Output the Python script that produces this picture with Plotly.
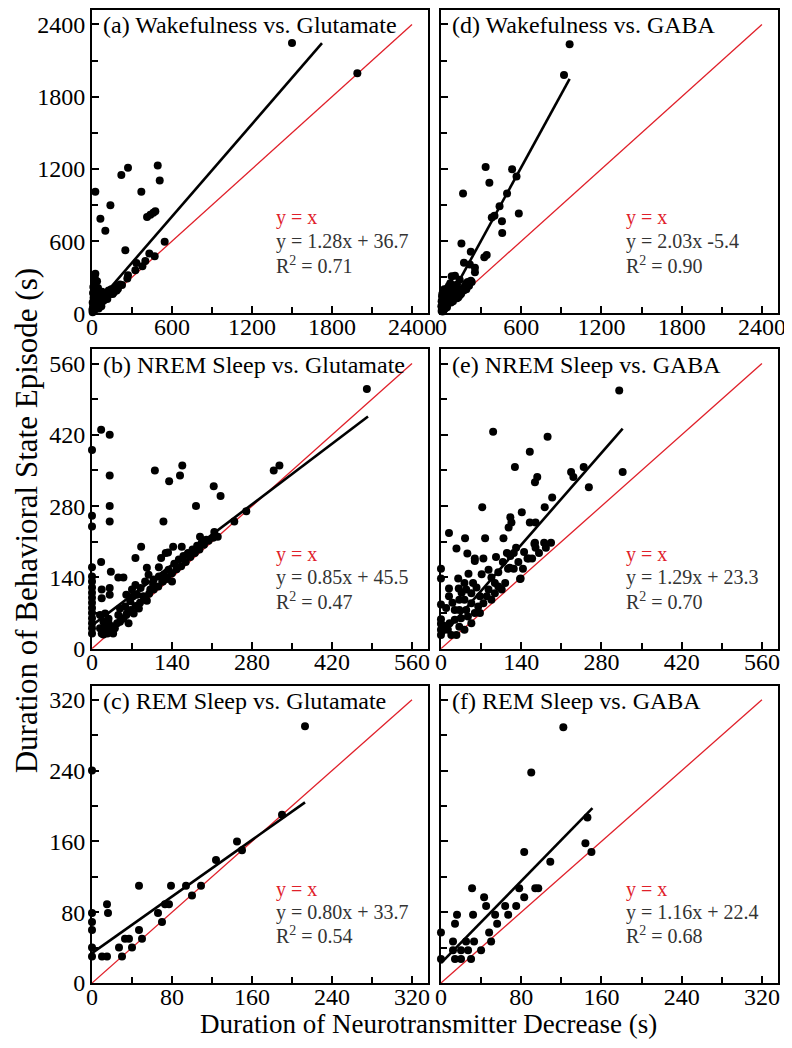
import plotly.graph_objects as go

# ---------------- data ----------------
wake_glu_points = [
    (1500, 2245), (1990, 1995), (25, 1010), (220, 1150), (270, 1209), (493, 1229), (508, 1103),
    (370, 1010), (138, 898), (63, 786), (100, 687), (413, 800), (438, 820), (460, 836), (475, 848),
    (250, 525), (545, 595), (430, 497), (470, 474), (400, 435), (333, 418), (325, 359), (378, 392),
    (270, 317), (265, 289), (225, 235), (25, 330), (20, 300), (38, 266),
    (5, 10), (10, 40), (12, 25), (15, 60), (20, 30), (25, 80), (30, 45), (35, 100), (40, 55),
    (45, 120), (50, 70), (55, 140), (60, 80), (65, 160), (70, 90), (75, 180), (80, 100), (90, 110),
    (100, 125), (110, 135), (120, 150), (130, 160), (140, 165), (150, 180), (160, 200), (170, 195),
    (180, 210), (190, 225), (200, 230), (210, 240), (8, 170), (10, 220), (15, 150), (18, 120),
    (22, 180), (30, 200), (40, 150), (50, 40), (60, 110), (70, 60), (85, 130), (95, 150), (105, 160),
    (115, 120), (125, 190), (135, 170), (145, 200), (155, 160), (165, 175), (175, 215), (185, 190),
    (195, 205), (5, 90), (12, 130), (28, 260), (45, 210), (8, 60), (3, 30),
]
nrem_glu_points = [
    (481, 510), (16, 430), (31, 420), (0, 390), (110, 350), (158, 360), (154, 340), (135, 329),
    (31, 340), (318, 350), (328, 360), (213, 319), (225, 300), (182, 280), (31, 280), (31, 250),
    (125, 250), (0, 261), (0, 240), (270, 270), (249, 250), (189, 220), (214, 229), (220, 220),
    (86, 200), (76, 178), (16, 170), (33, 151), (129, 188), (133, 189), (142, 200), (157, 200),
    (121, 178), (96, 159), (117, 160), (46, 140), (55, 140),
    (0, 30), (0, 40), (0, 50), (0, 60), (0, 70), (0, 80), (0, 90), (0, 100), (0, 110), (0, 120),
    (0, 132), (0, 142), (0, 160),
    (14, 66), (23, 69), (29, 59), (20, 53), (29, 50), (14, 40), (23, 40), (32, 40), (17, 30), (27, 30),
    (17, 116), (17, 99), (31, 119), (31, 106), (37, 30), (40, 40), (46, 66), (55, 59), (49, 53),
    (61, 69), (64, 50), (49, 79), (58, 83), (67, 93), (72, 103), (60, 106), (70, 116), (79, 106),
    (85, 119), (76, 125), (93, 132), (102, 116), (90, 103), (96, 94), (82, 79), (73, 69), (108, 136),
    (117, 142), (126, 145), (134, 155), (107, 126), (99, 145), (123, 132), (131, 137), (140, 132),
    (20, 28), (28, 35), (36, 44), (44, 50), (52, 60), (60, 66), (68, 76), (76, 84), (84, 90), (92, 100),
    (100, 108), (108, 116), (116, 122), (124, 132), (132, 140), (140, 148), (148, 156), (156, 162),
    (164, 170), (172, 180), (180, 188), (188, 195), (196, 204), (204, 212), (212, 218),
    (144, 167), (152, 175), (160, 182), (168, 188), (176, 195), (184, 202), (192, 208), (200, 214),
]
rem_glu_points = [
    (213, 290), (0, 240), (190, 190), (145, 160), (150, 150), (124, 139), (47, 110), (79, 110),
    (94, 110), (109, 110), (100, 99), (73, 89), (77, 89), (66, 79), (70, 69), (15, 89), (16, 79),
    (0, 79), (0, 69), (0, 60), (0, 40), (0, 30), (10, 30), (15, 30), (27, 40), (30, 30), (33, 50),
    (37, 50), (40, 40), (47, 60), (50, 50),
]
wake_gaba_points = [
    (962, 2235), (920, 1980), (334, 1215), (532, 1198), (565, 1137), (362, 1086), (165, 996),
    (494, 996), (438, 889), (400, 810), (380, 797), (582, 830), (456, 766), (458, 668), (153, 581),
    (223, 512), (342, 484), (324, 466), (172, 421), (216, 407), (254, 379), (254, 342), (223, 272),
    (80, 308), (105, 312), (140, 280),
    (5, 20), (10, 40), (15, 60), (20, 80), (25, 100), (30, 120), (35, 140), (10, 160), (20, 170),
    (40, 190), (50, 210), (60, 230), (70, 250), (80, 200), (90, 180), (100, 160), (110, 150),
    (120, 140), (130, 135), (140, 150), (150, 170), (160, 190), (170, 210), (180, 230), (190, 250),
    (200, 260), (60, 150), (70, 130), (80, 120), (90, 100), (50, 80), (40, 60), (30, 40), (20, 25),
    (45, 100), (55, 120), (65, 170), (75, 90), (100, 220), (120, 240), (130, 200), (110, 190),
    (15, 120), (5, 100), (8, 140), (25, 200), (35, 70), (120, 125), (150, 160), (170, 190),
    (190, 200), (210, 230), (230, 260), (3, 60), (12, 15), (45, 50),
]
nrem_gaba_points = [
    (311, 507), (91, 426), (186, 416), (155, 387), (129, 357), (227, 347), (231, 337), (249, 357),
    (317, 347), (258, 317), (164, 327), (168, 337), (194, 297), (181, 278), (72, 278), (141, 268),
    (121, 258), (123, 248), (118, 238), (155, 248), (165, 248), (14, 227), (42, 217), (77, 217),
    (109, 217), (27, 197), (46, 187),
    (164, 208), (165, 198), (171, 188), (180, 208), (183, 198), (192, 208), (153, 177), (138, 137),
    (127, 188), (131, 198), (121, 182), (115, 188), (120, 159), (74, 177), (59, 177), (59, 172),
    (71, 146), (83, 155), (48, 147), (56, 129), (41, 129), (31, 118), (14, 118), (14, 103), (0, 157),
    (0, 138), (0, 87), (0, 58), (0, 49), (0, 37), (0, 27),
    (12, 37), (18, 27), (27, 27), (15, 50), (24, 57), (32, 43), (41, 37), (35, 60), (47, 63), (53, 50),
    (59, 70), (68, 70), (44, 76), (53, 89), (65, 83), (74, 89), (80, 103), (88, 96), (83, 116),
    (94, 109), (100, 122), (106, 116), (112, 129), (94, 129), (68, 103), (32, 76), (24, 76), (41, 96),
    (32, 96), (53, 109), (44, 116),
    (139, 138), (143, 157), (127, 157), (117, 157), (151, 177), (159, 177), (163, 206), (30, 138),
    (9, 80), (5, 45), (20, 90), (36, 110), (62, 120), (88, 140), (100, 150), (108, 170), (96, 180),
    (135, 170), (145, 190),
]
rem_gaba_points = [
    (122, 289), (90, 238), (146, 187), (144, 158), (150, 148), (83, 148), (109, 137), (31, 107),
    (78, 107), (94, 107), (97, 107), (43, 97), (83, 97), (45, 87), (64, 87), (75, 87), (16, 77),
    (32, 77), (54, 77), (67, 77), (14, 67), (56, 67), (48, 57), (0, 57), (12, 47), (25, 47), (33, 47),
    (50, 47), (12, 37), (20, 37), (27, 37), (40, 37), (14, 27), (20, 27), (30, 27), (0, 27),
]

panel_titles = ["(a) Wakefulness vs. Glutamate", "(b) NREM Sleep vs. Glutamate",
                "(c) REM Sleep vs. Glutamate", "(d) Wakefulness vs. GABA",
                "(e) NREM Sleep vs. GABA", "(f) REM Sleep vs. GABA"]
fit_texts = ["y = 1.28x + 36.7", "y = 0.85x + 45.5", "y = 0.80x + 33.7",
             "y = 2.03x -5.4", "y = 1.29x + 23.3", "y = 1.16x + 22.4"]
r2_texts = ["R<sup>2</sup> = 0.71", "R<sup>2</sup> = 0.47", "R<sup>2</sup> = 0.54",
            "R<sup>2</sup> = 0.90", "R<sup>2</sup> = 0.70", "R<sup>2</sup> = 0.68"]
fit_slopes = [1.28, 0.85, 0.80, 2.03, 1.29, 1.16]
fit_intercepts = [36.7, 45.5, 33.7, -5.4, 23.3, 22.4]
fit_x_start = [0, 0, 0, 3, 0, 0]
fit_x_end = [1725, 483, 213, 962, 317, 151]

wake_ticks = [0, 600, 1200, 1800, 2400]
nrem_ticks = [0, 140, 280, 420, 560]
rem_ticks = [0, 80, 160, 240, 320]

x_title = "Duration of Neurotransmitter Decrease (s)"
y_title = "Duration of Behavioral State Episode (s)"

# ---------------- figure ----------------
FONT = "Liberation Serif"
RED = "#e0202a"
TXT = "#333333"

all_points = [wake_glu_points, nrem_glu_points, rem_glu_points,
              wake_gaba_points, nrem_gaba_points, rem_gaba_points]
all_ticks = [wake_ticks, nrem_ticks, rem_ticks, wake_ticks, nrem_ticks, rem_ticks]

col_domains = [[0.0, 0.4898], [0.5087, 1.0]]
row_domains = [[0.6882, 1.0], [0.3436, 0.6513], [0.0, 0.3056]]

fig = go.Figure()
layout = dict(
    width=792, height=1048,
    margin=dict(l=84, r=22, t=0, b=73),
    plot_bgcolor="white", paper_bgcolor="white",
    showlegend=False,
    font=dict(family=FONT, color="black", size=24),
)
annotations = []

for i in range(6):
    ax = i + 1
    xa = "x" if ax == 1 else f"x{ax}"
    ya = "y" if ax == 1 else f"y{ax}"
    col = 0 if i < 3 else 1
    row = i % 3
    ticks = all_ticks[i]
    step = ticks[1] - ticks[0]
    top = ticks[-1] * 1.05
    pts = all_points[i]
    px = [p[0] for p in pts]
    py = [p[1] for p in pts]

    # y = x reference
    fig.add_trace(go.Scatter(x=[0, ticks[-1]], y=[0, ticks[-1]], mode="lines",
                             line=dict(color=RED, width=1.3), xaxis=xa, yaxis=ya,
                             hoverinfo="skip"))
    # regression line
    x0, x1 = fit_x_start[i], fit_x_end[i]
    fig.add_trace(go.Scatter(x=[x0, x1],
                             y=[fit_slopes[i] * x0 + fit_intercepts[i],
                                fit_slopes[i] * x1 + fit_intercepts[i]],
                             mode="lines", line=dict(color="black", width=2.6),
                             xaxis=xa, yaxis=ya))
    # data
    fig.add_trace(go.Scatter(x=px, y=py, mode="markers",
                             marker=dict(color="black", size=8, line=dict(width=0)),
                             cliponaxis=False, xaxis=xa, yaxis=ya))

    axis_common = dict(
        range=[0, top], showgrid=False, zeroline=False,
        showline=True, linecolor="black", linewidth=2, mirror=True,
        ticks="inside", ticklen=7, tickwidth=1.5, tickcolor="black",
        tickvals=ticks, ticktext=[str(t) for t in ticks],
        tickfont=dict(family=FONT, size=24, color="black"),
        minor=dict(ticks="inside", ticklen=6, tickwidth=1.5, tickcolor="black",
                   dtick=step / 2, tick0=0, showgrid=False),
    )
    xkey = "xaxis" if ax == 1 else f"xaxis{ax}"
    ykey = "yaxis" if ax == 1 else f"yaxis{ax}"
    layout[xkey] = dict(axis_common, domain=col_domains[col], anchor=ya,
                        ticklabelstandoff=-9)
    layout[ykey] = dict(axis_common, domain=row_domains[row], anchor=xa,
                        showticklabels=(col == 0))

    xd = f"{xa} domain"
    yd = f"{ya} domain"
    annotations.append(dict(text=panel_titles[i], xref=xd, yref=yd, x=0.028, y=0.949,
                            xanchor="left", yanchor="middle", showarrow=False,
                            font=dict(family=FONT, size=24, color="black")))
    annotations.append(dict(text="y = x", xref=xd, yref=yd, x=0.543, y=0.316,
                            xanchor="left", yanchor="middle", showarrow=False,
                            font=dict(family=FONT, size=20, color=RED)))
    annotations.append(dict(text=fit_texts[i], xref=xd, yref=yd, x=0.543, y=0.238,
                            xanchor="left", yanchor="middle", showarrow=False,
                            font=dict(family=FONT, size=20, color=TXT)))
    annotations.append(dict(text=r2_texts[i], xref=xd, yref=yd, x=0.543, y=0.160,
                            xanchor="left", yanchor="middle", showarrow=False,
                            font=dict(family=FONT, size=20, color=TXT)))

annotations.append(dict(text=x_title, xref="paper", yref="paper", x=0.49, y=-0.042,
                        xanchor="center", yanchor="middle", showarrow=False,
                        font=dict(family=FONT, size=27, color="black")))
annotations.append(dict(text=y_title, xref="paper", yref="paper", x=-0.0955, y=0.475,
                        xanchor="center", yanchor="middle", showarrow=False, textangle=-90,
                        font=dict(family=FONT, size=31, color="black")))

layout["annotations"] = annotations
fig.update_layout(**layout)
fig.write_html("out.html")
